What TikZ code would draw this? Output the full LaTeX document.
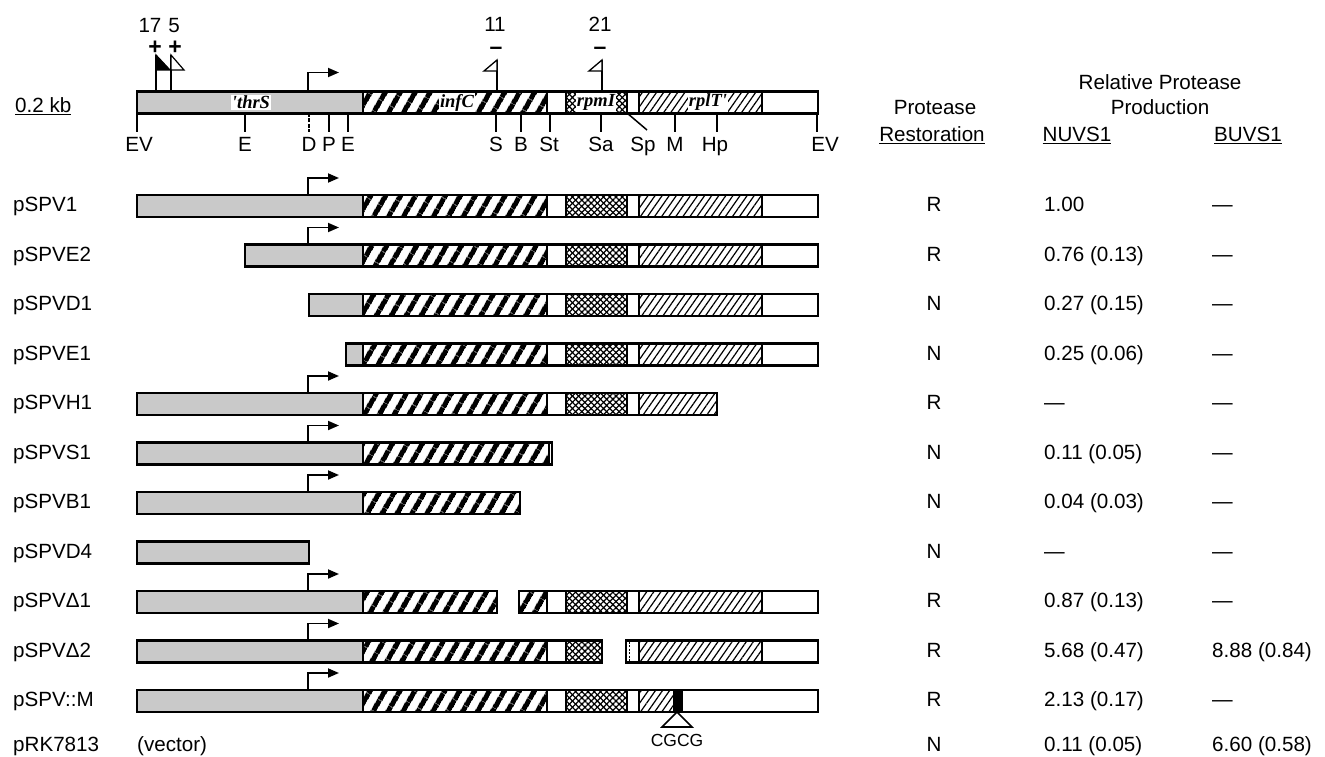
\documentclass[tikz,border=0pt]{standalone}
\usepackage{fontspec}
\setmainfont{Liberation Sans}
\newfontfamily\genefont{Liberation Serif}
\usetikzlibrary{patterns.meta,arrows.meta}
\definecolor{thrgray}{gray}{0.79}
\newcommand\segm[4]{\path[#4,draw,line width=1.2pt] (#1,#3-11) rectangle (#2,#3+11);}
\newcommand\rpmseg[3]{%
  \path[pattern={Lines[angle=45,distance=4.4pt,line width=1.25pt]}] (#1,#3-11) rectangle (#2,#3+11);
  \path[pattern={Lines[angle=-45,distance=4.4pt,line width=1.25pt]},draw,line width=1.2pt] (#1,#3-11) rectangle (#2,#3+11);}
\newcommand\outl[3]{\draw[line width=2.2pt] (#1,#3-11) rectangle (#2,#3+11);}
\newcommand\prom[2]{\draw[line width=1.8pt,-{Triangle[length=11pt,width=9pt]}] (308,#1-11) -- (308,#1-11-#2) -- (339,#1-11-#2);}
\newcommand\fullbar[1]{%
  \segm{137}{363}{#1}{thr}\segm{363}{547}{#1}{inf}\segm{547}{566}{#1}{wht}%
  \rpmseg{566}{627}{#1}\segm{627}{639}{#1}{wht}\segm{639}{762}{#1}{rpl}%
  \segm{762}{818}{#1}{wht}\outl{137}{818}{#1}}
\newcommand\rowtext[6]{%
  \node[lab,anchor=base west] (lab#1) at (13,#2+5.5) {#3};
  \node[lab,anchor=base] (rn#1) at (934,#2+5.5) {#4};
  \node[lab,anchor=base west] (nu#1) at (1044,#2+5.5) {#5};
  \node[lab,anchor=base west] (bu#1) at (1212,#2+5.5) {#6};}
\begin{document}
\begin{tikzpicture}[x=1pt,y=-1pt,line join=miter,
  lab/.style={font=\fontsize{20.6}{24}\selectfont,inner sep=0pt},
  sign/.style={font=\fontsize{23}{24}\selectfont\bfseries,inner sep=0pt,anchor=base},
  gene/.style={font=\genefont\bfseries\itshape\fontsize{18.5}{22}\selectfont,fill=white,inner sep=1.2pt},
  thr/.style={fill=thrgray},
  inf/.style={pattern={Lines[angle=60,distance=13pt,line width=5.5pt]}},
  rpl/.style={pattern={Lines[angle=55,distance=5.8pt,line width=1.2pt]}},
  wht/.style={fill=white},
  tick/.style={line width=1.5pt}]
\useasboundingbox (0,0) rectangle (1325,757);

% ---------- map ----------
\fullbar{102.5}
\prom{102.5}{19}
\node[gene] (gthr) at (251,102.5) {'thrS};
\node[gene] (ginf) at (457,102.5) {infC};
\node[gene] (grpm) at (596,102.5) {rpmI};
\node[gene] (grpl) at (708,102.5) {rplT'};
\node[lab,anchor=base west] (scale) at (15,113) {\underline{0.2 kb}};

% insertion flags
\draw[tick] (156,92) -- (156,55);
\draw[line width=1.2pt,fill=black] (156,55) -- (170,70) -- (156,70) -- cycle;
\draw[tick] (171,92) -- (171,55);
\draw[line width=1.2pt,fill=white] (171,55) -- (184,70) -- (171,70) -- cycle;
\draw[tick] (497,92) -- (497,60);
\draw[line width=1.3pt,fill=white] (497,60) -- (484,71) -- (497,71) -- cycle;
\draw[tick] (602,92) -- (602,60);
\draw[line width=1.3pt,fill=white] (602,60) -- (589,71) -- (602,71) -- cycle;
\node[sign] (p17) at (155,55) {+};
\node[sign] (p5) at (175,55) {+};
\node[sign] (m11) at (496,55) {–};
\node[sign] (m21) at (600,55) {–};
\node[lab,anchor=base] (n17) at (150,33) {17};
\node[lab,anchor=base] (n5) at (174,33) {5};
\node[lab,anchor=base] (n11) at (495,32) {11};
\node[lab,anchor=base] (n21) at (600,32) {21};

% restriction sites
\foreach \x in {137,245,329,348,496,521,550,601,675,717,817}{
  \draw[tick] (\x,113) -- (\x,132);
}
\draw[tick,dash pattern=on 4pt off 1.5pt] (309,113) -- (309,132);
\draw[tick] (627,113) -- (647,130);
\foreach \x/\t/\n in {139/EV/t1,245/E/t2,309/D/t3,329/P/t4,348/E/t5,496/S/t6,521/B/t7,549/St/t8,601/Sa/t9,643/Sp/t10,675/M/t11,715/Hp/t12,825/EV/t13}{
  \node[lab,anchor=base] (\n) at (\x,152) {\t};
}

% ---------- headers ----------
\node[lab,anchor=base] (hrel) at (1160,90) {Relative Protease};
\node[lab,anchor=base] (hprod) at (1160,115) {Production};
\node[lab,anchor=base] (hprot) at (935,115) {Protease};
\node[lab,anchor=base] (hrest) at (932,142) {\underline{Restoration}};
\node[lab,anchor=base] (hnu) at (1077,142) {\underline{NUVS1}};
\node[lab,anchor=base] (hbu) at (1248,142) {\underline{BUVS1}};

% ---------- constructs ----------
% pSPV1
\fullbar{206}
\prom{206}{17}
% pSPVE2
\segm{245}{363}{255.5}{thr}\segm{363}{547}{255.5}{inf}\segm{547}{566}{255.5}{wht}
\rpmseg{566}{627}{255.5}\segm{627}{639}{255.5}{wht}\segm{639}{762}{255.5}{rpl}
\segm{762}{818}{255.5}{wht}\outl{245}{818}{255.5}
\prom{255.5}{17}
% pSPVD1
\segm{309}{363}{305}{thr}\segm{363}{547}{305}{inf}\segm{547}{566}{305}{wht}
\rpmseg{566}{627}{305}\segm{627}{639}{305}{wht}\segm{639}{762}{305}{rpl}
\segm{762}{818}{305}{wht}\outl{309}{818}{305}
% pSPVE1
\segm{346}{363}{354.5}{thr}\segm{363}{547}{354.5}{inf}\segm{547}{566}{354.5}{wht}
\rpmseg{566}{627}{354.5}\segm{627}{639}{354.5}{wht}\segm{639}{762}{354.5}{rpl}
\segm{762}{818}{354.5}{wht}\outl{346}{818}{354.5}
% pSPVH1
\segm{137}{363}{404}{thr}\segm{363}{547}{404}{inf}\segm{547}{566}{404}{wht}
\rpmseg{566}{627}{404}\segm{627}{639}{404}{wht}\segm{639}{717}{404}{rpl}
\outl{137}{717}{404}
\prom{404}{17}
% pSPVS1
\segm{137}{363}{453.5}{thr}\segm{363}{549}{453.5}{inf}\segm{549}{552}{453.5}{wht}
\outl{137}{552}{453.5}
\prom{453.5}{17}
% pSPVB1
\segm{137}{363}{503}{thr}\segm{363}{520}{503}{inf}
\outl{137}{520}{503}
\prom{503}{17}
% pSPVD4
\segm{137}{309}{552.5}{thr}
\outl{137}{309}{552.5}
% pSPVDelta1
\segm{137}{363}{602}{thr}\segm{363}{497}{602}{inf}\outl{137}{497}{602}
\segm{519}{547}{602}{inf}\segm{547}{566}{602}{wht}
\rpmseg{566}{627}{602}\segm{627}{639}{602}{wht}\segm{639}{762}{602}{rpl}
\segm{762}{818}{602}{wht}\outl{519}{818}{602}
\prom{602}{17}
% pSPVDelta2
\segm{137}{363}{651.5}{thr}\segm{363}{547}{651.5}{inf}\segm{547}{566}{651.5}{wht}
\rpmseg{566}{602}{651.5}\outl{137}{602}{651.5}
\segm{626}{639}{651.5}{wht}\segm{639}{762}{651.5}{rpl}
\segm{762}{818}{651.5}{wht}\outl{626}{818}{651.5}
\draw[line width=0.8pt,dash pattern=on 2pt off 1.5pt] (629.5,641.5) -- (629.5,661.5);
\prom{651.5}{17}
% pSPV::M
\segm{137}{363}{701}{thr}\segm{363}{547}{701}{inf}\segm{547}{566}{701}{wht}
\rpmseg{566}{627}{701}\segm{627}{639}{701}{wht}\segm{639}{674}{701}{rpl}
\fill (674,690) rectangle (682,712);
\segm{682}{818}{701}{wht}\outl{137}{818}{701}
\prom{701}{17}
\draw[line width=1.6pt,fill=white] (677,712) -- (662,727) -- (692,727) -- cycle;
\node[lab,font=\fontsize{17.5}{20}\selectfont,anchor=base] (cgcg) at (677,746) {CGCG};

% ---------- text columns ----------
\rowtext{1}{206}{pSPV1}{R}{1.00}{—}
\rowtext{2}{255.5}{pSPVE2}{R}{0.76 (0.13)}{—}
\rowtext{3}{305}{pSPVD1}{N}{0.27 (0.15)}{—}
\rowtext{4}{354.5}{pSPVE1}{N}{0.25 (0.06)}{—}
\rowtext{5}{404}{pSPVH1}{R}{—}{—}
\rowtext{6}{453.5}{pSPVS1}{N}{0.11 (0.05)}{—}
\rowtext{7}{503}{pSPVB1}{N}{0.04 (0.03)}{—}
\rowtext{8}{552.5}{pSPVD4}{N}{—}{—}
\rowtext{9}{602}{pSPVΔ1}{R}{0.87 (0.13)}{—}
\rowtext{10}{651.5}{pSPVΔ2}{R}{5.68 (0.47)}{8.88 (0.84)}
\rowtext{11}{701}{pSPV::M}{R}{2.13 (0.17)}{—}
\rowtext{12}{746}{pRK7813}{N}{0.11 (0.05)}{6.60 (0.58)}
\node[lab,anchor=base west] (vec) at (137,751.5) {(vector)};
\end{tikzpicture}
\end{document}
